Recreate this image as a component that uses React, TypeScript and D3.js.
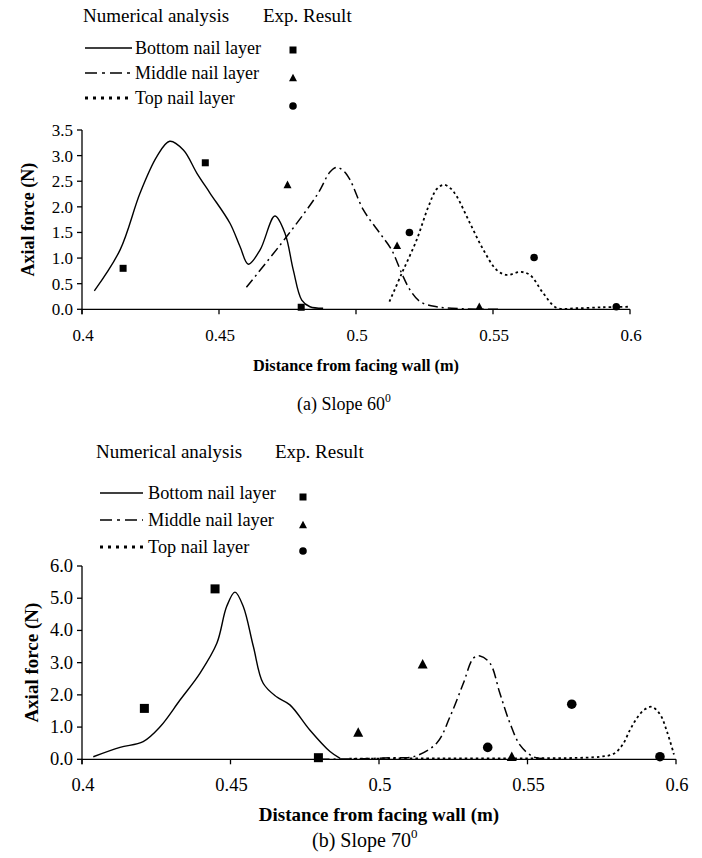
import React from "react";
import * as d3 from "d3";

// ---------- DATA ----------
const xTickValues = [0.4, 0.45, 0.5, 0.55, 0.6];
const xTickLabels = ["0.4", "0.45", "0.5", "0.55", "0.6"];
const aYTickValues = [0, 0.5, 1, 1.5, 2, 2.5, 3, 3.5];
const aYTickLabels = ["0.0", "0.5", "1.0", "1.5", "2.0", "2.5", "3.0", "3.5"];
const bYTickValues = [0, 1, 2, 3, 4, 5, 6];
const bYTickLabels = ["0.0", "1.0", "2.0", "3.0", "4.0", "5.0", "6.0"];

const legendHeaders = ["Numerical analysis", "Exp. Result"];
const seriesNames = ["Bottom nail layer", "Middle nail layer", "Top nail layer"];

// (a) Slope 60
const aBottomX = [0.4045, 0.4139, 0.4212, 0.4273, 0.432, 0.437, 0.4419, 0.4467, 0.454, 0.4577, 0.4607, 0.465, 0.4704, 0.4741, 0.4771, 0.4802, 0.4832, 0.488];
const aBottomY = [0.36, 1.16, 2.27, 2.98, 3.28, 3.11, 2.66, 2.27, 1.68, 1.22, 0.88, 1.16, 1.82, 1.48, 0.77, 0.18, 0.05, 0.02];
const aMiddleX = [0.46, 0.4747, 0.486, 0.4905, 0.4929, 0.4955, 0.4978, 0.5027, 0.5088, 0.513, 0.5167, 0.5197, 0.5234, 0.5294, 0.539, 0.5526];
const aMiddleY = [0.43, 1.42, 2.25, 2.68, 2.77, 2.7, 2.53, 1.94, 1.48, 1.16, 0.7, 0.38, 0.15, 0.05, 0.01, 0.0];
const aTopX = [0.5122, 0.5167, 0.5221, 0.5264, 0.5295, 0.532, 0.5345, 0.5368, 0.5416, 0.5465, 0.5513, 0.555, 0.5599, 0.5635, 0.5684, 0.5732, 0.58, 0.59, 0.6];
const aTopY = [0.15, 0.7, 1.35, 2.0, 2.35, 2.43, 2.36, 2.2, 1.68, 1.16, 0.77, 0.67, 0.73, 0.67, 0.31, 0.03, 0.02, 0.04, 0.05];
const aSquareX = [0.415, 0.445, 0.48];
const aSquareY = [0.8, 2.86, 0.04];
const aTriangleX = [0.475, 0.515, 0.545];
const aTriangleY = [2.43, 1.24, 0.05];
const aCircleX = [0.5195, 0.565, 0.595];
const aCircleY = [1.5, 1.01, 0.05];

// (b) Slope 70
const bBottomX = [0.4038, 0.4128, 0.4206, 0.4263, 0.433, 0.4397, 0.4454, 0.4487, 0.4515, 0.4543, 0.4577, 0.461, 0.4655, 0.47, 0.4767, 0.4835, 0.4869];
const bBottomY = [0.08, 0.37, 0.55, 1.01, 1.84, 2.67, 3.6, 4.74, 5.19, 4.74, 3.5, 2.36, 1.94, 1.69, 0.91, 0.24, 0.03];
const bMiddleX = [0.48, 0.495, 0.505, 0.5116, 0.5194, 0.5239, 0.5284, 0.5318, 0.534, 0.5374, 0.5407, 0.5441, 0.5475, 0.5519, 0.5564];
const bMiddleY = [0.0, 0.02, 0.05, 0.08, 0.5, 1.32, 2.36, 3.14, 3.21, 2.98, 2.05, 1.12, 0.44, 0.08, 0.01];
const bTopX = [0.49, 0.52, 0.55, 0.5744, 0.579, 0.582, 0.5845, 0.587, 0.5895, 0.5918, 0.5946, 0.597, 0.5993];
const bTopY = [0.02, 0.03, 0.03, 0.08, 0.17, 0.45, 0.91, 1.3, 1.55, 1.63, 1.4, 0.85, 0.15];
const bSquareX = [0.421, 0.4448, 0.4796];
const bSquareY = [1.58, 5.29, 0.05];
const bTriangleX = [0.493, 0.5147, 0.5447];
const bTriangleY = [0.83, 2.95, 0.08];
const bCircleX = [0.5366, 0.5649, 0.5946];
const bCircleY = [0.37, 1.71, 0.08];

// ---------- DRAWING ----------
const FONT = "Liberation Serif, Times New Roman, DejaVu Serif, serif";
const fontStyle = { fontFamily: FONT };
const DASH_MID = "10,4,2,4";
const DASH_TOP = "2.5,3";

const zip = (xs: number[], ys: number[]) => xs.map((x, i) => [x, ys[i]] as [number, number]);

function Marker({ type, cx, cy, s }: { type: string; cx: number; cy: number; s: number }) {
  if (type === "square") return <rect x={cx - s / 2} y={cy - s / 2} width={s} height={s} fill="#000" />;
  if (type === "triangle") {
    const h = s * 0.95;
    return <path d={`M${cx},${cy - h / 2 - 1} L${cx + s / 2 + 0.5},${cy + h / 2} L${cx - s / 2 - 0.5},${cy + h / 2} Z`} fill="#000" />;
  }
  return <circle cx={cx} cy={cy} r={s / 2 + 0.3} fill="#000" />;
}

function Legend({ ox, oy, hx2, rowX, rows, lineX0, lineX1, markX, markDy, headerSize, rowSize }: any) {
  const dashes = [null, "12,5,3,5", "3,5"];
  const widths = [1.3, 1.5, 3];
  const types = ["square", "triangle", "circle"];
  return (
    <g style={fontStyle} fill="#000">
      <text x={ox} y={oy} fontSize={headerSize} style={fontStyle}>{legendHeaders[0]}</text>
      <text x={hx2} y={oy} fontSize={headerSize} style={fontStyle}>{legendHeaders[1]}</text>
      {seriesNames.map((n, i) => (
        <g key={n}>
          <line x1={lineX0} x2={lineX1} y1={rows[i]} y2={rows[i]} stroke="#000" strokeWidth={widths[i]} strokeDasharray={dashes[i] || undefined} />
          <text x={rowX} y={rows[i] + 6} fontSize={rowSize} style={fontStyle}>{n}</text>
          <Marker type={types[i]} cx={markX} cy={rows[i] + markDy[i]} s={7} />
        </g>
      ))}
    </g>
  );
}

function Chart({ x0, x1, y0, y1, yMax, yTicks, yLabels, lines, marks, tickSize, titleSize, yTitleSize, titleY, yTitleX, subtitle, subX, subY, subSize, markSize }: any) {
  const x = d3.scaleLinear().domain([0.4, 0.6]).range([x0, x1]);
  const y = d3.scaleLinear().domain([0, yMax]).range([y0, y1]);
  const line = d3.line<[number, number]>().x((d) => x(d[0])).y((d) => y(d[1])).curve(d3.curveCatmullRom.alpha(0.5));
  const styles = [
    { dash: undefined, w: 1.4 },
    { dash: DASH_MID, w: 1.5 },
    { dash: DASH_TOP, w: 1.8 },
  ];
  const types = ["square", "triangle", "circle"];
  return (
    <g style={fontStyle}>
      {lines.map((pts: [number, number][], i: number) => (
        <path key={i} d={line(pts) || ""} fill="none" stroke="#000" strokeWidth={styles[i].w} strokeDasharray={styles[i].dash} />
      ))}
      {marks.map((pts: [number, number][], i: number) =>
        pts.map((p, j) => <Marker key={`${i}-${j}`} type={types[i]} cx={x(p[0])} cy={y(p[1])} s={markSize} />)
      )}
      {/* axes */}
      <line x1={x0} x2={x1} y1={y0} y2={y0} stroke="#000" strokeWidth={1.3} />
      <line x1={x0} x2={x0} y1={y1} y2={y0 + 5} stroke="#000" strokeWidth={1.3} />
      {xTickValues.map((v, i) => (
        <g key={v}>
          <line x1={x(v)} x2={x(v)} y1={y0} y2={y0 + 5} stroke="#000" strokeWidth={1.3} />
          <text x={x(v) + 1} y={y0 + 32} fontSize={tickSize} textAnchor="middle" style={fontStyle}>{xTickLabels[i]}</text>
        </g>
      ))}
      {yTicks.map((v: number, i: number) => (
        <g key={v}>
          <line x1={x0 - 5} x2={x0} y1={y(v)} y2={y(v)} stroke="#000" strokeWidth={1.3} />
          <text x={x0 - 9} y={y(v) + 6} fontSize={tickSize} textAnchor="end" style={fontStyle}>{yLabels[i]}</text>
        </g>
      ))}
      <text x={(x0 + x1) / 2} y={titleY} fontSize={titleSize} fontWeight="bold" textAnchor="middle" style={fontStyle}>Distance from facing wall (m)</text>
      <text transform={`translate(${yTitleX},${(y0 + y1) / 2}) rotate(-90)`} fontSize={yTitleSize} fontWeight="bold" textAnchor="middle" style={fontStyle}>Axial force (N)</text>
      <text x={subX} y={subY} fontSize={subSize} style={fontStyle}>
        {subtitle}
        <tspan fontSize={subSize * 0.65} dy={-subSize * 0.45}>0</tspan>
      </text>
    </g>
  );
}

export default function App() {
  return (
    <svg width={702} height={858} style={{ position: "absolute", left: 0, top: 0, background: "#fff" }}>
      <rect width={702} height={858} fill="#fff" />
      <Legend ox={83} oy={22} hx2={263} rowX={135} rows={[48, 73, 98]} lineX0={85} lineX1={132} markX={293} markDy={[2, 5, 8]} headerSize={19} rowSize={18} />
      <Chart
        x0={82} x1={630} y0={309.3} y1={130} yMax={3.5}
        yTicks={aYTickValues} yLabels={aYTickLabels}
        lines={[zip(aBottomX, aBottomY), zip(aMiddleX, aMiddleY), zip(aTopX, aTopY)]}
        marks={[zip(aSquareX, aSquareY), zip(aTriangleX, aTriangleY), zip(aCircleX, aCircleY)]}
        tickSize={17} titleSize={16.3} yTitleSize={18} titleY={371} yTitleX={34}
        subtitle="(a) Slope 60" subX={297} subY={410} subSize={18} markSize={7}
      />
      <Legend ox={96} oy={458} hx2={275} rowX={148} rows={[493, 520, 547]} lineX0={100} lineX1={143} markX={303} markDy={[4, 5, 4]} headerSize={19} rowSize={18.3} />
      <Chart
        x0={82} x1={676} y0={759.3} y1={566} yMax={6}
        yTicks={bYTickValues} yLabels={bYTickLabels}
        lines={[zip(bBottomX, bBottomY), zip(bMiddleX, bMiddleY), zip(bTopX, bTopY)]}
        marks={[zip(bSquareX, bSquareY), zip(bTriangleX, bTriangleY), zip(bCircleX, bCircleY)]}
        tickSize={18.5} titleSize={19} yTitleSize={19} titleY={821} yTitleX={38}
        subtitle="(b) Slope 70" subX={312} subY={847} subSize={20} markSize={9}
      />
    </svg>
  );
}
